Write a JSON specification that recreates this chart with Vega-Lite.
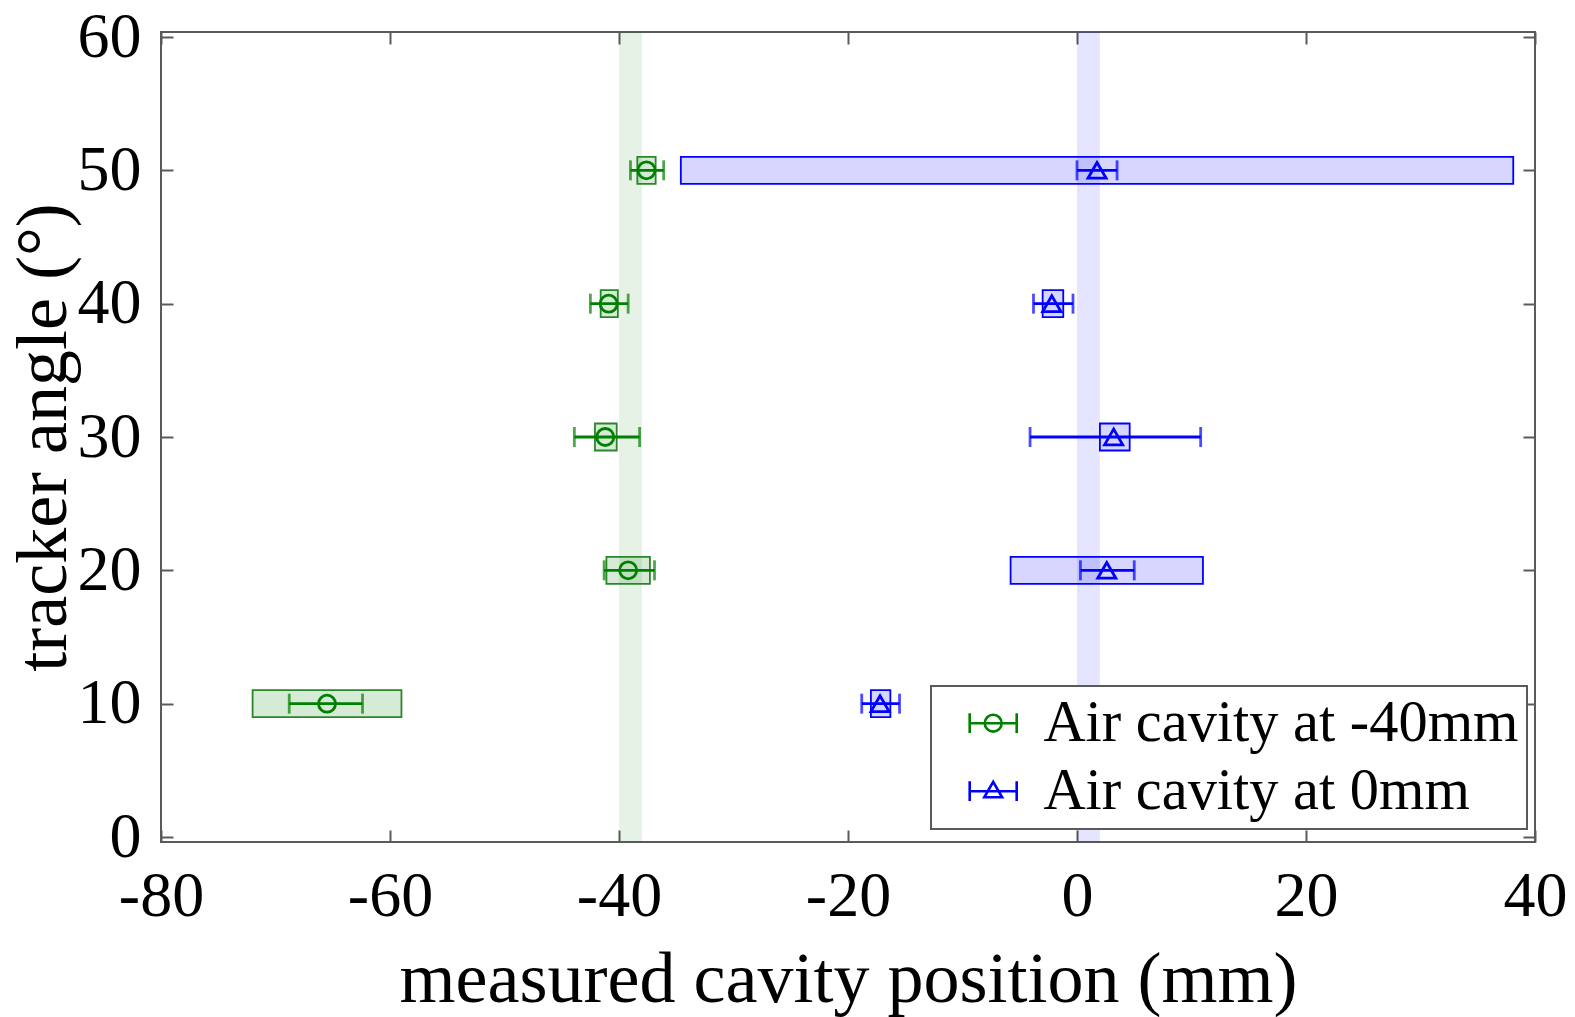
{
  "$schema": "https://vega.github.io/schema/vega-lite/v6.json",
  "description": "Measured cavity position vs tracker angle for two air cavity positions.",
  "autosize": "none",
  "padding": {"left": 161, "top": 32, "right": 40, "bottom": 175},
  "width": 1374,
  "height": 810,
  "datasets": {
    "points": [
      {"series": "Air cavity at -40mm", "angle": 50, "pos": -37.6, "err_lo": -39.0, "err_hi": -36.1, "box_lo": -38.4, "box_hi": -36.8},
      {"series": "Air cavity at -40mm", "angle": 40, "pos": -40.9, "err_lo": -42.5, "err_hi": -39.2, "box_lo": -41.6, "box_hi": -40.1},
      {"series": "Air cavity at -40mm", "angle": 30, "pos": -41.2, "err_lo": -43.9, "err_hi": -38.2, "box_lo": -42.1, "box_hi": -40.2},
      {"series": "Air cavity at -40mm", "angle": 20, "pos": -39.2, "err_lo": -41.3, "err_hi": -36.9, "box_lo": -41.1, "box_hi": -37.3},
      {"series": "Air cavity at -40mm", "angle": 10, "pos": -65.5, "err_lo": -68.8, "err_hi": -62.4, "box_lo": -72.0, "box_hi": -59.0},
      {"series": "Air cavity at 0mm", "angle": 50, "pos": 1.75, "err_lo": 0.0, "err_hi": 3.5, "box_lo": -34.6, "box_hi": 38.1},
      {"series": "Air cavity at 0mm", "angle": 40, "pos": -2.2, "err_lo": -3.8, "err_hi": -0.35, "box_lo": -3.0, "box_hi": -1.2},
      {"series": "Air cavity at 0mm", "angle": 30, "pos": 3.2, "err_lo": -4.1, "err_hi": 10.8, "box_lo": 2.0, "box_hi": 4.6},
      {"series": "Air cavity at 0mm", "angle": 20, "pos": 2.6, "err_lo": 0.3, "err_hi": 5.0, "box_lo": -5.8, "box_hi": 11.0},
      {"series": "Air cavity at 0mm", "angle": 10, "pos": -17.2, "err_lo": -18.8, "err_hi": -15.5, "box_lo": -18.0, "box_hi": -16.3}
    ],
    "bands": [
      {"series": "Air cavity at -40mm", "lo": -40, "hi": -38},
      {"series": "Air cavity at 0mm", "lo": 0, "hi": 2}
    ]
  },
  "resolve": {"axis": {"x": "independent", "y": "independent"}},
  "layer": [
    {
      "data": {"name": "bands"},
      "mark": {"type": "rect", "fillOpacity": 0.1},
      "encoding": {
        "x": {"field": "lo", "type": "quantitative", "scale": {"domain": [-80, 40], "nice": false}, "axis": null},
        "x2": {"field": "hi"},
        "fill": {"condition": {"test": "datum.series == 'Air cavity at 0mm'", "value": "#0000ff"}, "value": "#008000"}
      }
    },
    {
      "data": {"name": "points"},
      "mark": {"type": "bar", "orient": "horizontal", "height": 27, "fillOpacity": 0.16, "strokeWidth": 1.8},
      "encoding": {
        "x": {
          "field": "box_lo", "type": "quantitative",
          "scale": {"domain": [-80, 40], "nice": false},
          "axis": {"orient": "bottom", "values": [-80, -60, -40, -20, 0, 20, 40], "labelExpr": "'' + datum.value", "title": "measured cavity position (mm)"}
        },
        "x2": {"field": "box_hi"},
        "y": {
          "field": "angle", "type": "quantitative",
          "scale": {"domain": [0, 60], "nice": false},
          "axis": {"orient": "left", "values": [0, 10, 20, 30, 40, 50, 60], "labelExpr": "'' + datum.value", "title": "tracker angle (°)"}
        },
        "fill": {"condition": {"test": "datum.series == 'Air cavity at 0mm'", "value": "#0000ff"}, "value": "#008000"},
        "stroke": {"condition": {"test": "datum.series == 'Air cavity at 0mm'", "value": "#0000ff"}, "value": "#2a862a"}
      }
    },
    {
      "data": {"name": "points"},
      "mark": {"type": "rule", "strokeWidth": 2.8},
      "encoding": {
        "x": {
          "field": "err_lo", "type": "quantitative",
          "axis": {"orient": "top", "values": [-80, -60, -40, -20, 0, 20, 40], "labels": false, "title": null}
        },
        "x2": {"field": "err_hi"},
        "y": {
          "field": "angle", "type": "quantitative",
          "axis": {"orient": "right", "values": [0, 10, 20, 30, 40, 50, 60], "labels": false, "title": null}
        },
        "stroke": {"condition": {"test": "datum.series == 'Air cavity at 0mm'", "value": "#0000ff"}, "value": "#008000"}
      }
    },
    {
      "data": {"name": "points"},
      "mark": {"type": "tick", "orient": "vertical", "size": 20, "thickness": 2.8},
      "encoding": {
        "x": {"field": "err_lo", "type": "quantitative", "axis": null},
        "y": {"field": "angle", "type": "quantitative", "axis": null},
        "fill": {"condition": {"test": "datum.series == 'Air cavity at 0mm'", "value": "#0000ff"}, "value": "#008000"}
      }
    },
    {
      "data": {"name": "points"},
      "mark": {"type": "tick", "orient": "vertical", "size": 20, "thickness": 2.8},
      "encoding": {
        "x": {"field": "err_hi", "type": "quantitative", "axis": null},
        "y": {"field": "angle", "type": "quantitative", "axis": null},
        "fill": {"condition": {"test": "datum.series == 'Air cavity at 0mm'", "value": "#0000ff"}, "value": "#008000"}
      }
    },
    {
      "data": {"name": "points"},
      "mark": {"type": "point", "filled": false, "strokeWidth": 2.8, "opacity": 1},
      "encoding": {
        "x": {"field": "pos", "type": "quantitative", "axis": null},
        "y": {"field": "angle", "type": "quantitative", "axis": null},
        "stroke": {"condition": {"test": "datum.series == 'Air cavity at 0mm'", "value": "#0000ff"}, "value": "#008000"},
        "shape": {"condition": {"test": "datum.series == 'Air cavity at 0mm'", "value": "triangle-up"}, "value": "circle"},
        "size": {"condition": {"test": "datum.series == 'Air cavity at 0mm'", "value": 330}, "value": 290}
      }
    },
    {
      "data": {"name": "points"},
      "mark": {"type": "point", "filled": false, "strokeWidth": 2.6, "opacity": 0},
      "encoding": {
        "x": {"field": "pos", "type": "quantitative", "axis": null},
        "y": {"field": "angle", "type": "quantitative", "axis": null},
        "color": {
          "field": "series", "type": "nominal",
          "scale": {"domain": ["Air cavity at -40mm", "Air cavity at 0mm"], "range": ["#008000", "#0000ff"]},
          "legend": {"title": null, "orient": "none", "legendX": 770, "legendY": 654, "symbolOpacity": 1}
        },
        "shape": {
          "field": "series", "type": "nominal",
          "scale": {
            "domain": ["Air cavity at -40mm", "Air cavity at 0mm"],
            "range": [
              "M-1,0H1M-1,-0.42V0.42M1,-0.42V0.42M-0.36,0A0.36,0.36,0,1,0,0.36,0A0.36,0.36,0,1,0,-0.36,0",
              "M-1,0H1M-1,-0.42V0.42M1,-0.42V0.42M0,-0.4L0.38,0.26L-0.38,0.26Z"
            ]
          },
          "legend": {"title": null, "orient": "none", "legendX": 770, "legendY": 654, "symbolOpacity": 1}
        }
      }
    }
  ],
  "config": {
    "background": "white",
    "font": "Liberation Serif",
    "view": {"stroke": "#5a5a5a", "strokeWidth": 2},
    "axis": {
      "domain": false,
      "grid": false,
      "ticks": true,
      "tickColor": "#5a5a5a",
      "tickWidth": 2,
      "tickSize": -12,
      "labelFlush": false,
      "labelOverlap": false,
      "labelFont": "Liberation Serif",
      "labelFontSize": 64,
      "labelColor": "black",
      "titleFont": "Liberation Serif",
      "titleFontSize": 72,
      "titleFontWeight": "normal",
      "titleColor": "black"
    },
    "axisX": {"labelPadding": 34, "titlePadding": 16},
    "axisY": {"labelPadding": 32, "titlePadding": -3},
    "legend": {
      "labelFont": "Liberation Serif",
      "labelFontSize": 58.4,
      "labelColor": "black",
      "labelLimit": 1000,
      "symbolSize": 2209,
      "symbolStrokeWidth": 2.6,
      "symbolOpacity": 1,
      "symbolOffset": 25,
      "rowPadding": 9,
      "padding": 8,
      "labelOffset": 21,
      "strokeColor": "#5a5a5a",
      "strokeWidth": 2,
      "fillColor": "white",
      "cornerRadius": 0
    }
  }
}
